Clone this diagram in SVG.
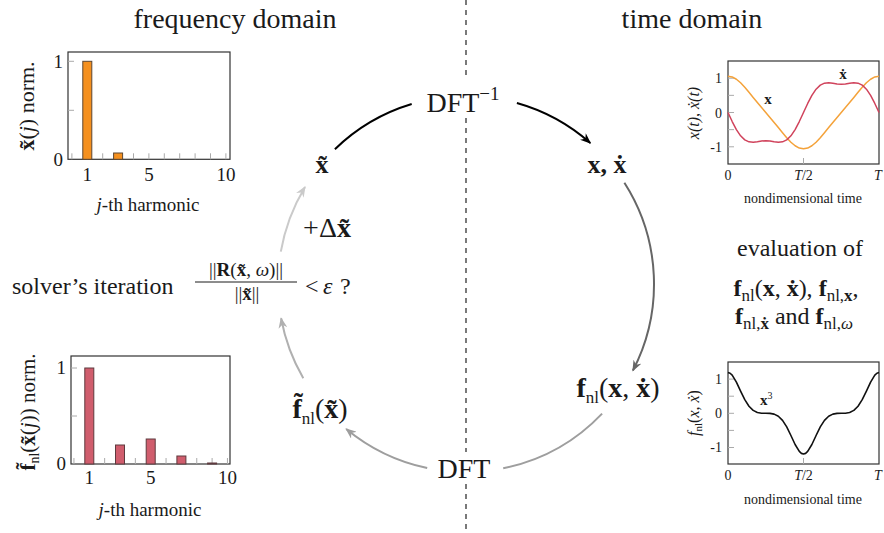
<svg xmlns="http://www.w3.org/2000/svg" width="884" height="533" viewBox="0 0 884 533" font-family="'Liberation Serif', 'Times New Roman', serif">
<style>
text{font-family:"Liberation Serif","Times New Roman",serif;fill:#1a1a1a}
.hdr{font-size:28px;text-anchor:middle}
.main{font-size:26px;text-anchor:middle}
.big{font-size:28px}
.bv{font-weight:bold}
.it{font-style:italic}
.sub{font-size:17px}
.lbl{font-size:24px}
.tk{font-size:19px}
.tks{font-size:14px}
.box{fill:none;stroke:#333;stroke-width:1.2}
.tick{stroke:#aaa;stroke-width:1}
.arc{fill:none;stroke-width:2}
</style>
<defs>
<marker id="ahK" viewBox="0 0 10 8" refX="9" refY="4" markerWidth="11" markerHeight="9" markerUnits="userSpaceOnUse" orient="auto"><path d="M0,0 L10,4 L0,8 L3,4 z" fill="#000"/></marker>
<marker id="ahD" viewBox="0 0 10 8" refX="9" refY="4" markerWidth="11" markerHeight="9" markerUnits="userSpaceOnUse" orient="auto"><path d="M0,0 L10,4 L0,8 L3,4 z" fill="#666"/></marker>
<marker id="ahM" viewBox="0 0 10 8" refX="9" refY="4" markerWidth="11" markerHeight="9" markerUnits="userSpaceOnUse" orient="auto"><path d="M0,0 L10,4 L0,8 L3,4 z" fill="#9e9e9e"/></marker>
<marker id="ahL" viewBox="0 0 10 8" refX="9" refY="4" markerWidth="11" markerHeight="9" markerUnits="userSpaceOnUse" orient="auto"><path d="M0,0 L10,4 L0,8 L3,4 z" fill="#b0b0b0"/></marker>
<marker id="ahX" viewBox="0 0 10 8" refX="9" refY="4" markerWidth="11" markerHeight="9" markerUnits="userSpaceOnUse" orient="auto"><path d="M0,0 L10,4 L0,8 L3,4 z" fill="#cacaca"/></marker>
</defs>
<rect width="884" height="533" fill="#fff"/>

<g id="headers">
<text class="hdr" x="235" y="28">frequency domain</text>
<text class="hdr" x="692" y="28">time domain</text>
</g>

<g id="divider">
<path d="M466,0 V78 M466,118 V452 M466,484 V533" stroke="#222" stroke-width="1.2" stroke-dasharray="5 5" fill="none"/>
</g>

<g id="connectors">
<path class="arc" stroke="#000" d="M334.9,149.2 A188,188 0 0 1 411.7,104"/>
<path class="arc" stroke="#000" d="M516.9,103 A188,188 0 0 1 590.3,143" marker-end="url(#ahK)"/>
<path class="arc" stroke="#666" d="M624.4,182.7 A188,188 0 0 1 632.9,370.5" marker-end="url(#ahD)"/>
<path class="arc" stroke="#9e9e9e" d="M602.1,413.6 A188,188 0 0 1 503.2,468.3"/>
<path class="arc" stroke="#9e9e9e" d="M427.2,468 A188,188 0 0 1 346.2,428.9" marker-end="url(#ahM)"/>
<path class="arc" stroke="#b0b0b0" d="M303.3,378.3 A188,188 0 0 1 281.1,318.3" marker-end="url(#ahL)"/>
<path class="arc" stroke="#cacaca" d="M280.8,251.7 A188,188 0 0 1 305,186.9" marker-end="url(#ahX)"/>
</g>

<g id="node-dft-inv">
<text class="main big" x="463" y="112">DFT<tspan font-size="19" dy="-12">−1</tspan></text>
</g>
<g id="node-xtilde">
<text class="main bv" x="322" y="173">x̃</text>
</g>
<g id="node-x-xdot">
<text class="main bv" x="607" y="173">x, ẋ</text>
</g>
<g id="node-fnl">
<text class="main big" x="618" y="397"><tspan class="bv">f</tspan><tspan class="sub" dy="6">nl</tspan><tspan dy="-6">(</tspan><tspan class="bv">x</tspan>, <tspan class="bv">ẋ</tspan>)</text>
</g>
<g id="node-dft">
<text class="main big" x="464" y="478">DFT</text>
</g>
<g id="node-fnl-tilde">
<text class="main big" x="320" y="418"><tspan class="bv">f̃</tspan><tspan class="sub" dy="6">nl</tspan><tspan dy="-6">(</tspan><tspan class="bv">x̃</tspan>)</text>
</g>
<g id="node-delta">
<text class="main big" x="327" y="237">+Δ<tspan class="bv">x̃</tspan></text>
</g>
<g id="node-check">
<text class="lbl" x="12" y="294">solver’s iteration</text>
<text x="246" y="276" font-size="19" text-anchor="middle">||<tspan class="bv">R</tspan>(<tspan class="bv">x̃</tspan>, <tspan class="it">ω</tspan>)||</text>
<line x1="195" y1="282" x2="297" y2="282" stroke="#1a1a1a" stroke-width="1"/>
<text x="247" y="300" font-size="19" text-anchor="middle">||<tspan class="bv">x̃</tspan>||</text>
<text class="lbl" x="305" y="294">&lt;<tspan class="it" x="323">ε</tspan><tspan x="340">?</tspan></text>
</g>
<g id="node-evaluation">
<text class="lbl" x="800" y="256" text-anchor="middle">evaluation of</text>
<text class="lbl" x="796" y="296" text-anchor="middle"><tspan class="bv">f</tspan><tspan class="sub" dy="5">nl</tspan><tspan dy="-5">(</tspan><tspan class="bv">x</tspan>, <tspan class="bv">ẋ</tspan>), <tspan class="bv">f</tspan><tspan class="sub" dy="5">nl,</tspan><tspan class="sub bv">x</tspan><tspan dy="-5">,</tspan></text>
<text class="lbl" x="794" y="324" text-anchor="middle"><tspan class="bv">f</tspan><tspan class="sub" dy="5">nl,</tspan><tspan class="sub bv">ẋ</tspan><tspan dy="-5"> and </tspan><tspan class="bv">f</tspan><tspan class="sub" dy="5">nl,</tspan><tspan class="sub it">ω</tspan></text>
</g>

<g id="chart-xtilde">
<rect class="box" x="68" y="52" width="162" height="107.3"/>
<g class="tick">
<path d="M71.9,159.3v-6 M87.3,159.3v-6 M102.7,159.3v-6 M118.1,159.3v-6 M133.5,159.3v-6 M148.9,159.3v-6 M164.3,159.3v-6 M179.7,159.3v-6 M195.1,159.3v-6 M210.5,159.3v-6 M225.9,159.3v-6 M68,61.3h6 M68,110.3h6"/>
</g>
<rect x="82.8" y="61.3" width="9" height="98" fill="#f5901e" stroke="#5c4632" stroke-width="1"/>
<rect x="113.6" y="153" width="9" height="6.3" fill="#f5901e" stroke="#5c4632" stroke-width="1"/>
<text class="tk" x="63" y="67.5" text-anchor="end">1</text>
<text class="tk" x="63" y="165.5" text-anchor="end">0</text>
<text class="tk" x="87.3" y="181" text-anchor="middle">1</text>
<text class="tk" x="148.9" y="181" text-anchor="middle">5</text>
<text class="tk" x="225.9" y="181" text-anchor="middle">10</text>
<text class="tk" x="148" y="211" text-anchor="middle"><tspan class="it">j</tspan>-th harmonic</text>
<text transform="translate(34,106) rotate(-90)" font-size="22" text-anchor="middle"><tspan class="bv">x̃</tspan>(<tspan class="it">j</tspan>) norm.</text>
</g>

<g id="chart-fnl">
<rect class="box" x="71" y="356" width="159" height="108"/>
<g class="tick">
<path d="M73.95,464v-6 M89.3,464v-6 M104.65,464v-6 M120,464v-6 M135.35,464v-6 M150.7,464v-6 M166.05,464v-6 M181.4,464v-6 M196.75,464v-6 M212.1,464v-6 M227.45,464v-6 M71,368h6 M71,416h6"/>
</g>
<g fill="#d05d6d" stroke="#5e3a3e" stroke-width="1">
<rect x="84.8" y="368" width="9" height="96"/>
<rect x="115.5" y="445" width="9" height="19"/>
<rect x="146.2" y="439" width="9" height="25"/>
<rect x="176.9" y="456" width="9" height="8"/>
<rect x="207.6" y="463" width="9" height="1"/>
</g>
<text class="tk" x="66" y="374" text-anchor="end">1</text>
<text class="tk" x="66" y="470" text-anchor="end">0</text>
<text class="tk" x="89.3" y="484" text-anchor="middle">1</text>
<text class="tk" x="150.7" y="484" text-anchor="middle">5</text>
<text class="tk" x="227.45" y="484" text-anchor="middle">10</text>
<text class="tk" x="150" y="516" text-anchor="middle"><tspan class="it">j</tspan>-th harmonic</text>
<text transform="translate(35,412) rotate(-90)" font-size="21" text-anchor="middle"><tspan class="bv">f̃</tspan><tspan font-size="14" dy="4">nl</tspan><tspan dy="-4">(</tspan><tspan class="bv">x̃</tspan>(<tspan class="it">j</tspan>)) norm.</text>
</g>

<g id="plot-x-xdot">
<rect class="box" x="728" y="61" width="151" height="103"/>
<path class="tick" d="M728,78.2h6 M728,95.35h6 M728,112.5h6 M728,129.65h6 M728,146.8h6 M803.5,164v-6"/>
<polyline fill="none" stroke="#f4a23a" stroke-width="1.5" stroke-linejoin="round" points="728,76.14 732.19,76.94 736.39,79.24 740.58,82.8 744.78,87.26 748.97,92.24 753.17,97.41 757.36,102.55 761.56,107.57 765.75,112.5 769.94,117.43 774.14,122.45 778.33,127.59 782.53,132.76 786.72,137.74 790.92,142.2 795.11,145.76 799.31,148.06 803.5,148.86 807.69,148.06 811.89,145.76 816.08,142.2 820.28,137.74 824.47,132.76 828.67,127.59 832.86,122.45 837.06,117.43 841.25,112.5 845.44,107.57 849.64,102.55 853.83,97.41 858.03,92.24 862.22,87.26 866.42,82.8 870.61,79.24 874.81,76.94 879,76.14"/>
<polyline fill="none" stroke="#d0435c" stroke-width="1.5" stroke-linejoin="round" points="728,112.5 732.19,121.54 736.39,129.58 740.58,135.82 744.78,139.9 748.97,141.86 753.17,142.2 757.36,141.64 761.56,140.93 765.75,140.63 769.94,140.93 774.14,141.64 778.33,142.2 782.53,141.86 786.72,139.9 790.92,135.82 795.11,129.58 799.31,121.54 803.5,112.5 807.69,103.46 811.89,95.42 816.08,89.18 820.28,85.1 824.47,83.14 828.67,82.8 832.86,83.36 837.06,84.07 841.25,84.37 845.44,84.07 849.64,83.36 853.83,82.8 858.03,83.14 862.22,85.1 866.42,89.18 870.61,95.42 874.81,103.46 879,112.5"/>
<text x="768" y="104" font-size="15" class="bv" text-anchor="middle">x</text>
<text x="843" y="79" font-size="15" class="bv" text-anchor="middle">ẋ</text>
<text class="tks" x="722" y="83" text-anchor="end">1</text>
<text class="tks" x="722" y="117.5" text-anchor="end">0</text>
<text class="tks" x="722" y="152" text-anchor="end">-1</text>
<text class="tks" x="728" y="180" text-anchor="middle">0</text>
<text class="tks" x="803.5" y="180" text-anchor="middle"><tspan class="it">T</tspan>/2</text>
<text class="tks it" x="878" y="180" text-anchor="middle">T</text>
<text class="tks" x="803" y="203" text-anchor="middle">nondimensional time</text>
<text class="it" font-size="16" transform="translate(699,113) rotate(-90)" text-anchor="middle">x(t), ẋ(t)</text>
</g>

<g id="plot-fnl">
<rect class="box" x="728" y="362" width="151" height="102"/>
<path class="tick" d="M728,379.1h6 M728,396.2h6 M728,413.3h6 M728,430.4h6 M728,447.5h6 M803.5,464v-6"/>
<polyline fill="none" stroke="#111" stroke-width="1.6" stroke-linejoin="round" points="728,372.57 730.1,373.23 732.19,375.18 736.39,382.12 740.58,391.09 744.78,399.66 748.97,406.25 753.17,410.39 757.36,412.47 761.56,413.2 765.75,413.3 769.94,413.4 774.14,414.13 778.33,416.21 782.53,420.35 786.72,426.94 790.92,435.51 795.11,444.48 799.31,451.42 801.4,453.37 803.5,454.03 805.6,453.37 807.69,451.42 811.89,444.48 816.08,435.51 820.28,426.94 824.47,420.35 828.67,416.21 832.86,414.13 837.06,413.4 841.25,413.3 845.44,413.2 849.64,412.47 853.83,410.39 858.03,406.25 862.22,399.66 866.42,391.09 870.61,382.12 874.81,375.18 876.9,373.23 879,372.57"/>
<text x="760" y="405" font-size="15"><tspan class="bv">x</tspan><tspan font-size="10" dy="-6">3</tspan></text>
<text class="tks" x="722" y="384" text-anchor="end">1</text>
<text class="tks" x="722" y="418" text-anchor="end">0</text>
<text class="tks" x="722" y="452" text-anchor="end">-1</text>
<text class="tks" x="728" y="480" text-anchor="middle">0</text>
<text class="tks" x="803.5" y="480" text-anchor="middle"><tspan class="it">T</tspan>/2</text>
<text class="tks it" x="878" y="480" text-anchor="middle">T</text>
<text class="tks" x="803" y="504" text-anchor="middle">nondimensional time</text>
<text font-size="16" transform="translate(699,413) rotate(-90)" text-anchor="middle"><tspan class="it">f</tspan><tspan font-size="11" dy="3">nl</tspan><tspan dy="-3">(</tspan><tspan class="it">x</tspan>, <tspan class="it">ẋ</tspan>)</text>
</g>
</svg>
